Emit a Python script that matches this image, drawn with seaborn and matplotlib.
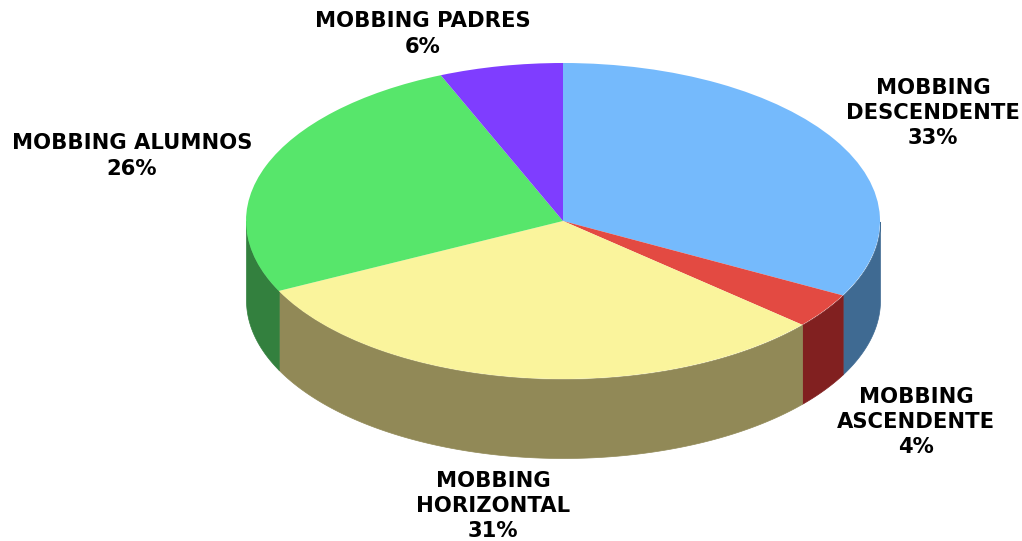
import numpy as np
import seaborn as sns
import matplotlib.pyplot as plt

# Data
categories = ["MOBBING\nDESCENDENTE\n33%", "MOBBING\nASCENDENTE\n4%", "MOBBING\nHORIZONTAL\n31%",
              "MOBBING ALUMNOS\n26%", "MOBBING PADRES\n6%"]
values = [32.8, 3.6, 31.3, 26.0, 6.3]
top_colors = ["#75BAFC", "#E34A42", "#FAF49C", "#57E66B", "#7F3DFF"]
side_colors = ["#3F6A92", "#812020", "#918957", "#33803E", "#46228F"]
label_px = [(933, 113), (916, 422), (493, 506), (132, 156), (423, 34)]

# Pixel geometry of the ellipse
W, H = 1022, 541
CX, CY, RX, RY, DEPTH = 563, 221, 317, 158, 79

sns.set_theme(style="white")
plt.rcParams["font.family"] = ["DejaVu Sans"]

fig = plt.figure(figsize=(W / 100, H / 100), dpi=100, facecolor="white")
ax = fig.add_axes([0, 0, 1, 1])

# Side walls, from the same slice angles as the pie
d = DEPTH / RY
edges = 90 - np.cumsum([0] + values) * 3.6
for i in range(len(values)):
    a = np.linspace(edges[i], edges[i + 1], 400)
    a = np.radians(a)
    mask = np.sin(a) <= 0
    if mask.sum() < 2:
        continue
    ax.fill_between(np.cos(a[mask]), np.sin(a[mask]), np.sin(a[mask]) - d,
                    color=side_colors[i], linewidth=0.5, zorder=1)

# Top face
ax.pie(values, colors=top_colors, startangle=90, counterclock=False, radius=1,
       wedgeprops={"linewidth": 0, "zorder": 2})

ax.set_aspect("auto")
ax.set_xlim(-CX / RX, (W - CX) / RX)
ax.set_ylim(-(H - CY) / RY, CY / RY)
ax.axis("off")

for text, (px, py) in zip(categories, label_px):
    ax.text((px - CX) / RX, (CY - py) / RY, text, ha="center", va="center",
            fontsize=15.2, fontweight="bold", color="black", linespacing=1.34, zorder=3)

fig.savefig("out.png", dpi=100)
